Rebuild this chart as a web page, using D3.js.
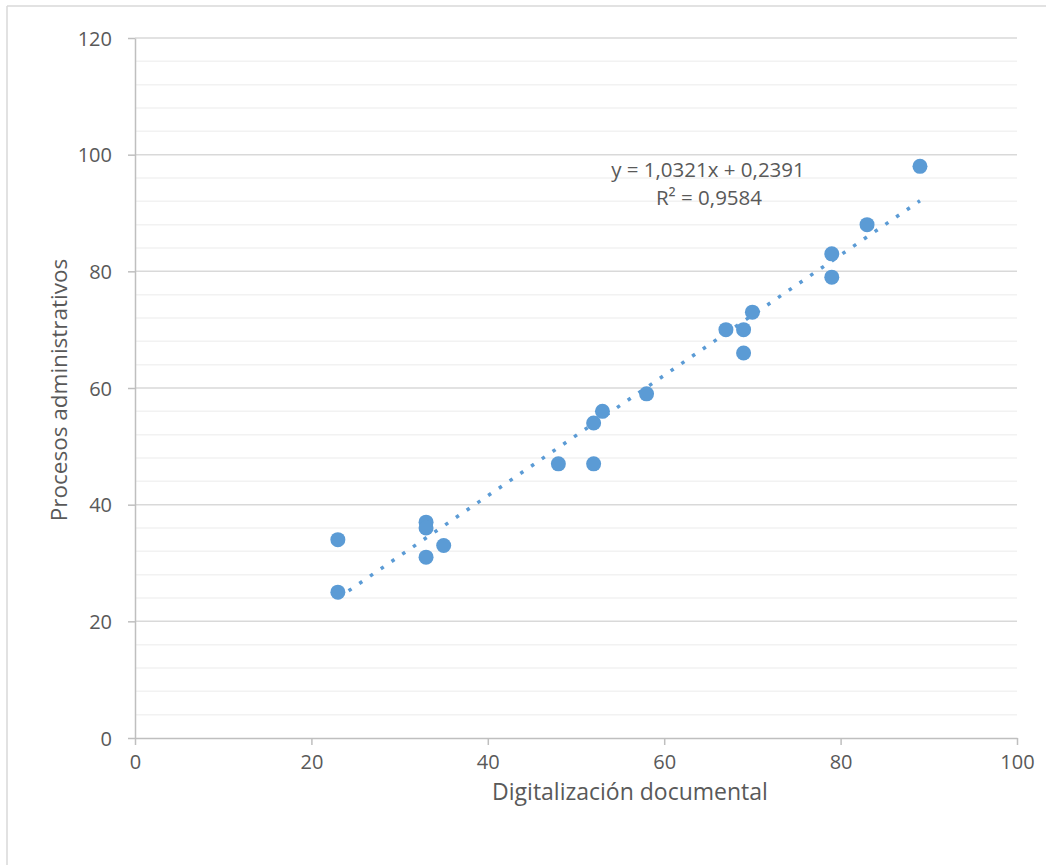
<!DOCTYPE html>
<html><head><meta charset="utf-8">
<script src="https://cdn.jsdelivr.net/npm/d3@7/dist/d3.min.js"></script>
<style>body{margin:0;background:#fff}svg{display:block}text{font-family:"Open Sans","Liberation Sans",sans-serif;fill:#595959}</style>
</head><body><svg id="c" width="1055" height="865"></svg>
<script>
const digitalizacion = [23,23,33,33,33,35,48,52,52,53,58,67,69,69,70,79,79,83,89];
const procesos      = [34,25,37,36,31,33,47,47,54,56,59,70,70,66,73,83,79,88,98];
const xTicks = [0,20,40,60,80,100];
const yTicks = [0,20,40,60,80,100,120];
const slope = 1.0321, intercept = 0.2391;
const eqLabel = "y = 1,0321x + 0,2391";
const r2Label = "R² = 0,9584";
const xTitle = "Digitalización documental";
const yTitle = "Procesos administrativos";

const svg = d3.select("#c");
const x = d3.scaleLinear().domain([0,100]).range([135,1017]);
const y = d3.scaleLinear().domain([0,120]).range([738,38]);

// frame
svg.append("line").attr("x1",7).attr("x2",1046).attr("y1",6).attr("y2",6).attr("stroke","#d9d9d9").attr("stroke-width",1.5);
svg.append("line").attr("x1",7).attr("x2",7).attr("y1",6).attr("y2",865).attr("stroke","#d9d9d9").attr("stroke-width",1.5);

// minor gridlines
const minor = d3.range(0,121,4).filter(v=>v%20!==0);
svg.append("g").selectAll("line").data(minor).join("line")
  .attr("x1",x(0)).attr("x2",x(100)).attr("y1",d=>y(d)).attr("y2",d=>y(d))
  .attr("stroke","#f2f2f2").attr("stroke-width",1.5);
// major gridlines
svg.append("g").selectAll("line").data(yTicks.filter(v=>v>0)).join("line")
  .attr("x1",x(0)).attr("x2",x(100)).attr("y1",d=>y(d)).attr("y2",d=>y(d))
  .attr("stroke","#d9d9d9").attr("stroke-width",1.5);

// axes
const ya = svg.append("g").attr("transform",`translate(${x(0)},0)`)
  .call(d3.axisLeft(y).tickValues(yTicks).tickSize(7).tickSizeOuter(0).tickPadding(16));
const xa = svg.append("g").attr("transform",`translate(0,${y(0)})`)
  .call(d3.axisBottom(x).tickValues(xTicks).tickSize(7).tickSizeOuter(0).tickPadding(13));
[ya,xa].forEach(g=>{
  g.select(".domain").attr("stroke","#bfbfbf").attr("stroke-width",1.5);
  g.selectAll(".tick line").attr("stroke","#bfbfbf").attr("stroke-width",1.5);
  g.selectAll(".tick text").attr("font-size",20).attr("fill","#595959").style("font-family",'"Open Sans","Liberation Sans",sans-serif');
});
ya.selectAll(".tick text").attr("dy","0.35em");
xa.selectAll(".tick text").attr("dy","0.55em");

// trendline
const [x0,x1] = d3.extent(digitalizacion);
svg.append("line")
  .attr("x1",x(x0)).attr("y1",y(slope*x0+intercept))
  .attr("x2",x(x1)).attr("y2",y(slope*x1+intercept))
  .attr("stroke","#5b9bd5").attr("stroke-width",3.5).attr("stroke-dasharray","3.5 9.5");

// points
svg.append("g").selectAll("circle").data(digitalizacion.map((d,i)=>[d,procesos[i]])).join("circle")
  .attr("cx",d=>x(d[0])).attr("cy",d=>y(d[1])).attr("r",7.5).attr("fill","#5b9bd5");

// labels
svg.append("text").attr("x",708).attr("y",177).attr("text-anchor","middle").attr("font-size",20.5).text(eqLabel);
svg.append("text").attr("x",709).attr("y",205).attr("text-anchor","middle").attr("font-size",20.5).text(r2Label);
svg.append("text").attr("x",630).attr("y",800).attr("text-anchor","middle").attr("font-size",23).text(xTitle);
svg.append("text").attr("transform","translate(67,390) rotate(-90)").attr("text-anchor","middle").attr("font-size",22.5).text(yTitle);
</script></body></html>
